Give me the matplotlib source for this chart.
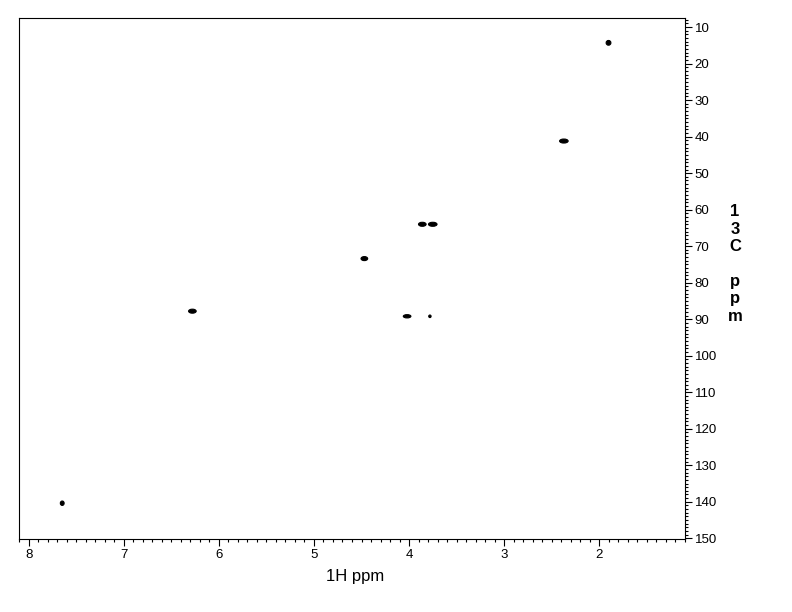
import matplotlib
matplotlib.use("Agg")
import matplotlib.pyplot as plt
from matplotlib.patches import Ellipse
from matplotlib.ticker import MultipleLocator

plt.rcParams['font.family'] = ['Liberation Sans', 'DejaVu Sans']

# peak centres (1H ppm, 13C ppm) and approximate footprint (ppm)
h_shift = [1.90, 2.37, 3.86, 3.75, 4.47, 6.28, 4.02, 3.78, 7.65]
c_shift = [14.3, 41.2, 64.0, 64.0, 73.4, 87.8, 89.2, 89.2, 140.4]
h_width = [0.05, 0.09, 0.08, 0.09, 0.07, 0.08, 0.08, 0.025, 0.04]
c_width = [1.3, 1.1, 1.1, 1.1, 1.1, 1.1, 0.9, 0.7, 1.2]

fig = plt.figure(figsize=(7.92, 6.12), dpi=100)
ax = fig.add_axes([19 / 792, 73 / 612, 666 / 792, 521 / 612])

for x, y, w, h in zip(h_shift, c_shift, h_width, c_width):
    ax.add_patch(Ellipse((x, y), w, h, facecolor='black', edgecolor='black', lw=0.8))

ax.set_xlim(8.105, 1.095)
ax.set_ylim(150.2, 7.5)

ax.xaxis.set_major_locator(MultipleLocator(1))
ax.xaxis.set_minor_locator(MultipleLocator(0.1))
ax.yaxis.set_major_locator(MultipleLocator(10))
ax.yaxis.set_minor_locator(MultipleLocator(1))
ax.yaxis.tick_right()

ax.tick_params(axis='both', which='major', direction='out', length=5, width=0.8,
               labelsize=9.5, pad=2)
ax.tick_params(axis='both', which='minor', direction='out', length=2.5, width=0.8)
ax.tick_params(axis='y', which='both', left=False, right=True)

for s in ax.spines.values():
    s.set_linewidth(0.8)

fig.text(355 / 792, 1 - 577 / 612, '1H ppm', ha='center', va='center', fontsize=12)
fig.text(735 / 792, 1 - 264 / 612, '1\n3\nC\n\np\np\nm', ha='center', va='center',
         fontsize=12, fontweight='bold', linespacing=1.2)

fig.savefig('out.png', dpi=100)
